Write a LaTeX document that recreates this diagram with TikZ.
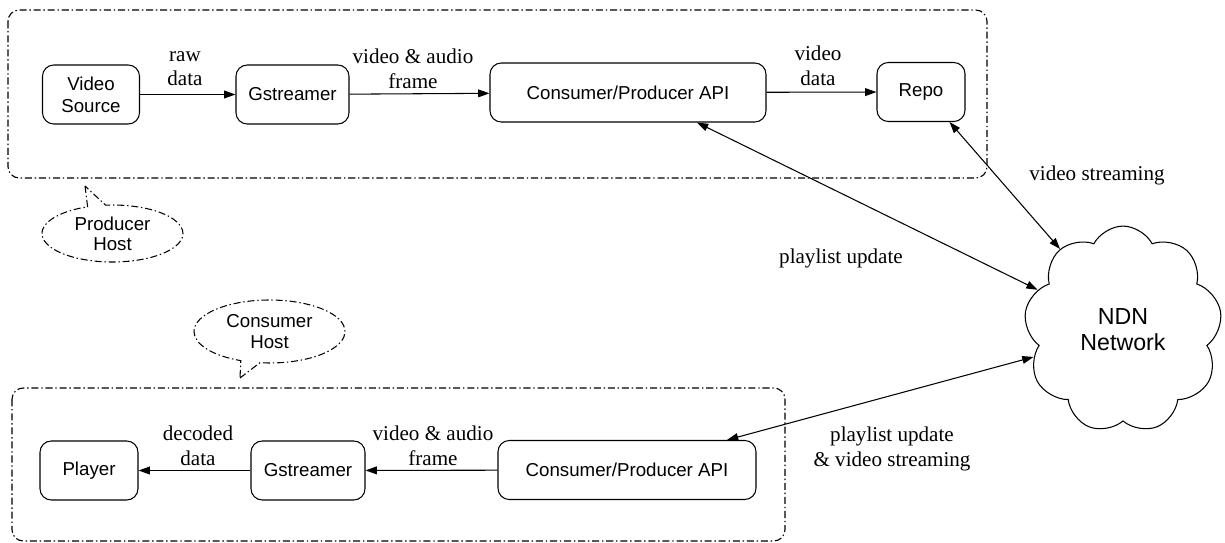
\documentclass[tikz,border=0pt]{standalone}
\usepackage{fontspec}
\setmainfont{Liberation Serif}
\setsansfont{Liberation Sans}
\usetikzlibrary{arrows.meta,shapes.symbols,shapes.callouts}

\begin{document}
\begin{tikzpicture}[
  blk/.style={draw, rounded corners=8pt, line width=0.75pt, minimum height=1.475cm,
    align=center, inner sep=2pt, font=\sffamily\fontsize{13.3}{15.6}\selectfont},
  lbl/.style={align=center, font=\fontsize{15}{17.5}\selectfont},
  flow/.style={-{Triangle[length=8pt,width=5.5pt]}, line width=0.75pt},
  link/.style={{Triangle[length=8pt,width=5.5pt]}-{Triangle[length=8pt,width=5.5pt]}, line width=0.75pt},
  hostbox/.style={draw, line width=0.8pt, rounded corners=8pt,
    dash pattern=on 5pt off 2pt on 1pt off 2pt},
  hosttag/.style={ellipse callout, draw, line width=0.75pt, inner sep=0pt,
    dash pattern=on 5pt off 2pt on 1pt off 2pt, align=center,
    font=\sffamily\fontsize{13.3}{14.4}\selectfont}
]
\useasboundingbox (0,0) rectangle (30.625,-13.575);

\coordinate (PT) at (2.125,-4.65); % producer tag tip
\coordinate (CT) at (6.00,-9.45); % consumer tag tip

% producer host
\draw[hostbox] (0.20,-0.25) rectangle (24.675,-4.45);
\node[blk, minimum width=2.425cm] (vsrc) at (2.275,-2.3625) {Video\\Source};
\node[blk, minimum width=2.825cm] (gstp) at (7.3125,-2.3625) {Gstreamer};
\node[blk, minimum width=6.90cm] (apip) at (15.70,-2.3125) {Consumer/Producer API};
\node[blk, minimum width=2.20cm] (repo) at (23.025,-2.30) {Repo};
\node[hosttag, minimum width=3.525cm, minimum height=1.425cm,
  callout absolute pointer={(PT)}] (ptag) at (2.8125,-5.8375) {Producer\\Host};

% consumer host
\draw[hostbox] (0.30,-9.70) rectangle (19.625,-13.525);
\node[blk, minimum width=2.45cm] (player) at (2.225,-11.7625) {Player};
\node[blk, minimum width=2.85cm] (gstc) at (7.70,-11.7625) {Gstreamer};
\node[blk, minimum width=6.45cm] (apic) at (15.675,-11.75) {Consumer/Producer API};
\node[hosttag, minimum width=3.775cm, minimum height=1.575cm,
  callout absolute pointer={(CT)}] (ctag) at (6.7375,-8.2875) {Consumer\\Host};

% network
\node[cloud, draw, line width=0.75pt, cloud puffs=9, cloud puff arc=125, aspect=1,
  minimum width=4.95cm, minimum height=5.175cm, align=center,
  font=\sffamily\fontsize{16.5}{19}\selectfont] (ndn) at (28.075,-8.24) {NDN\\Network};

\draw[flow] (vsrc) -- (gstp);
\draw[flow] (gstp) -- (apip);
\draw[flow] (apip) -- (repo);
\draw[flow] (apic) -- (gstc);
\draw[flow] (gstc) -- (player);
\draw[link] ([xshift=-0.4cm]repo.south east) -- (ndn.128);
\draw[link] ([xshift=1.725cm]apip.south) -- (ndn.155);
\draw[link] ([xshift=2.5cm]apic.north) -- (ndn.197);

\node[lbl] (l1) at (4.625,-1.7125) {raw\\data};
\node[lbl] (l2) at (10.325,-1.725) {video \& audio\\frame};
\node[lbl] (l3) at (20.45,-1.65) {video\\data};
\node[lbl] (l4) at (27.425,-4.375) {video streaming};
\node[lbl] (l5) at (21.025,-6.45) {playlist update};
\node[lbl] (l6) at (22.30,-11.225) {playlist update\\\& video streaming};
\node[lbl] (l7) at (4.95,-11.15) {decoded\\data};
\node[lbl] (l8) at (10.825,-11.15) {video \& audio\\frame};

\end{tikzpicture}
\end{document}
